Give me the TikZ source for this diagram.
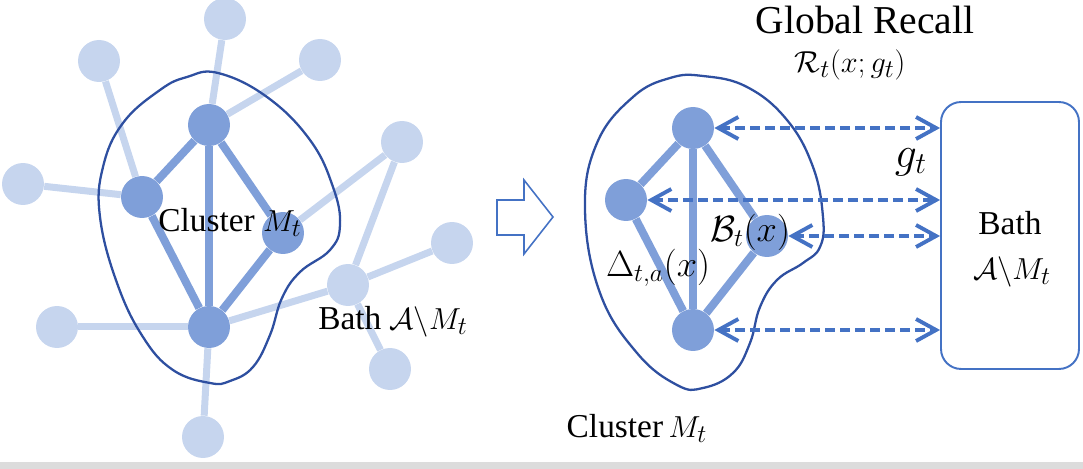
\documentclass[tikz,border=0pt]{standalone}
\usepackage{fontspec}
\setmainfont{Liberation Serif}
\usepackage{amsmath,amssymb}
\usetikzlibrary{arrows.meta,positioning}

\definecolor{nodedark}{HTML}{7F9FD9}
\definecolor{nodelight}{HTML}{C6D5EE}
\definecolor{blobline}{HTML}{2E4FA0}
\definecolor{arrowblue}{HTML}{4472C4}
\definecolor{bargray}{HTML}{DCDCDC}

\begin{document}
\begin{tikzpicture}[
x=0.02cm,y=-0.02cm,
core/.style={circle,fill=nodedark,minimum size=0.84cm,inner sep=0pt},
outer/.style={circle,fill=nodelight,minimum size=0.84cm,inner sep=0pt},
coreedge/.style={draw=nodedark,line width=0.16cm},
outeredge/.style={draw=nodelight,line width=0.14cm},
blob/.style={draw=blobline,line width=1.3pt},
recall/.style={draw=arrowblue,line width=2.2pt,dash pattern=on 0.2cm off 0.1cm,
  {Straight Barb[length=4mm,width=4.4mm]}-{Straight Barb[length=4mm,width=4.4mm]}},
lab/.style={font=\fontsize{19}{22}\selectfont,inner sep=0pt},
biglab/.style={font=\fontsize{21}{24}\selectfont,inner sep=0pt}
]
\useasboundingbox (0,0) rectangle (1083,469);
\fill[bargray] (0,462) rectangle (1083,469);

% left: full graph
\node[core] (ltop) at (209,125) {};
\node[core] (lleft) at (142,197) {};
\node[core] (lright) at (283,233) {};
\node[core] (lbot) at (209,327) {};
\node[outer] (otop) at (225,19) {};
\node[outer] (onw) at (99,61) {};
\node[outer] (one) at (320,60) {};
\node[outer] (ow) at (23,184) {};
\node[outer] (oe) at (402,142) {};
\node[outer] (oee) at (452,243) {};
\node[outer] (ohub) at (348,285) {};
\node[outer] (osw) at (57,327) {};
\node[outer] (ose) at (390,369) {};
\node[outer] (os) at (203,437) {};

\draw[outeredge] (otop) -- (ltop);
\draw[outeredge] (one) -- (ltop);
\draw[outeredge] (onw) -- (lleft);
\draw[outeredge] (ow) -- (lleft);
\draw[outeredge] (oe) -- (lright);
\draw[outeredge] (oe) -- (ohub);
\draw[outeredge] (oee) -- (ohub);
\draw[outeredge] (ohub) -- (lbot);
\draw[outeredge] (ohub) -- (ose);
\draw[outeredge] (osw) -- (lbot);
\draw[outeredge] (lbot) -- (os);

\draw[coreedge] (ltop) -- (lleft);
\draw[coreedge] (ltop) -- (lbot);
\draw[coreedge] (ltop) -- (lright);
\draw[coreedge] (lleft) -- (lbot);
\draw[coreedge] (lright) -- (lbot);

\draw[blob] plot[smooth cycle,tension=0.7] coordinates {
  (218,73) (267,97) (310,140) (333,187) (340,225) (330,250) (300,272)
  (282,298) (270,335) (253,367) (230,381) (210,383) (173,370) (143,337)
  (117,283) (100,217) (103,167) (123,123) (160,90) (187,77)};

\node[lab] (lclus) at (230,222) {Cluster $M_t$};
\node[lab] (lbath) at (393,322) {Bath $\mathcal{A}\backslash M_t$};

% hollow arrow
\draw[arrowblue,line width=0.9pt] (497,200) -- (524,200) -- (524,180) -- (553,217)
  -- (524,254) -- (524,235) -- (497,235) -- cycle;

% right: cluster and bath
\node[core] (rtop) at (693,128) {};
\node[core] (rleft) at (626,200) {};
\node[core] (rright) at (767,236) {};
\node[core] (rbot) at (693,330) {};

\draw[coreedge] (rtop) -- (rleft);
\draw[coreedge] (rtop) -- (rbot);
\draw[coreedge] (rtop) -- (rright);
\draw[coreedge] (rleft) -- (rbot);
\draw[coreedge] (rright) -- (rbot);

\draw[blob] plot[smooth cycle,tension=0.7] coordinates {
  (703,76) (747,87) (787,120) (813,167) (823,217) (820,247) (803,263)
  (777,280) (760,307) (750,343) (733,373) (703,388) (677,385) (637,353)
  (600,293) (585,210) (597,143) (633,97) (670,78)};

\node[draw=arrowblue,line width=1.1pt,rounded corners=0.4cm,
  minimum width=2.76cm,minimum height=5.34cm] (bath) at (1010,235.5) {};

\draw[recall] (rtop) -- (rtop -| bath.west);
\draw[recall] (rleft) -- (rleft -| bath.west);
\draw[recall] (rright) -- (rright -| bath.west);
\draw[recall] (rbot) -- (rbot -| bath.west);

\node[biglab] (delta) at (658,268) {$\Delta_{t,a}(x)$};
\node[biglab] (bt) at (750,232) {$\mathcal{B}_t(x)$};
\node[font=\fontsize{23}{26}\selectfont,inner sep=0pt] (gt) at (911,162) {$g_t$};
\node[font=\fontsize{22.5}{26}\selectfont,inner sep=0pt] (glob) at (865,20) {Global Recall};
\node[lab] (rec) at (850,65) {$\mathcal{R}_t(x;g_t)$};
\node[lab] (rclus) at (637,428) {Cluster\,$M_t$};
\node[lab] (bathtxt) at (1010,223) {Bath};
\node[lab] (bathset) at (1012,272) {$\mathcal{A}\backslash M_t$};
\end{tikzpicture}
\end{document}
